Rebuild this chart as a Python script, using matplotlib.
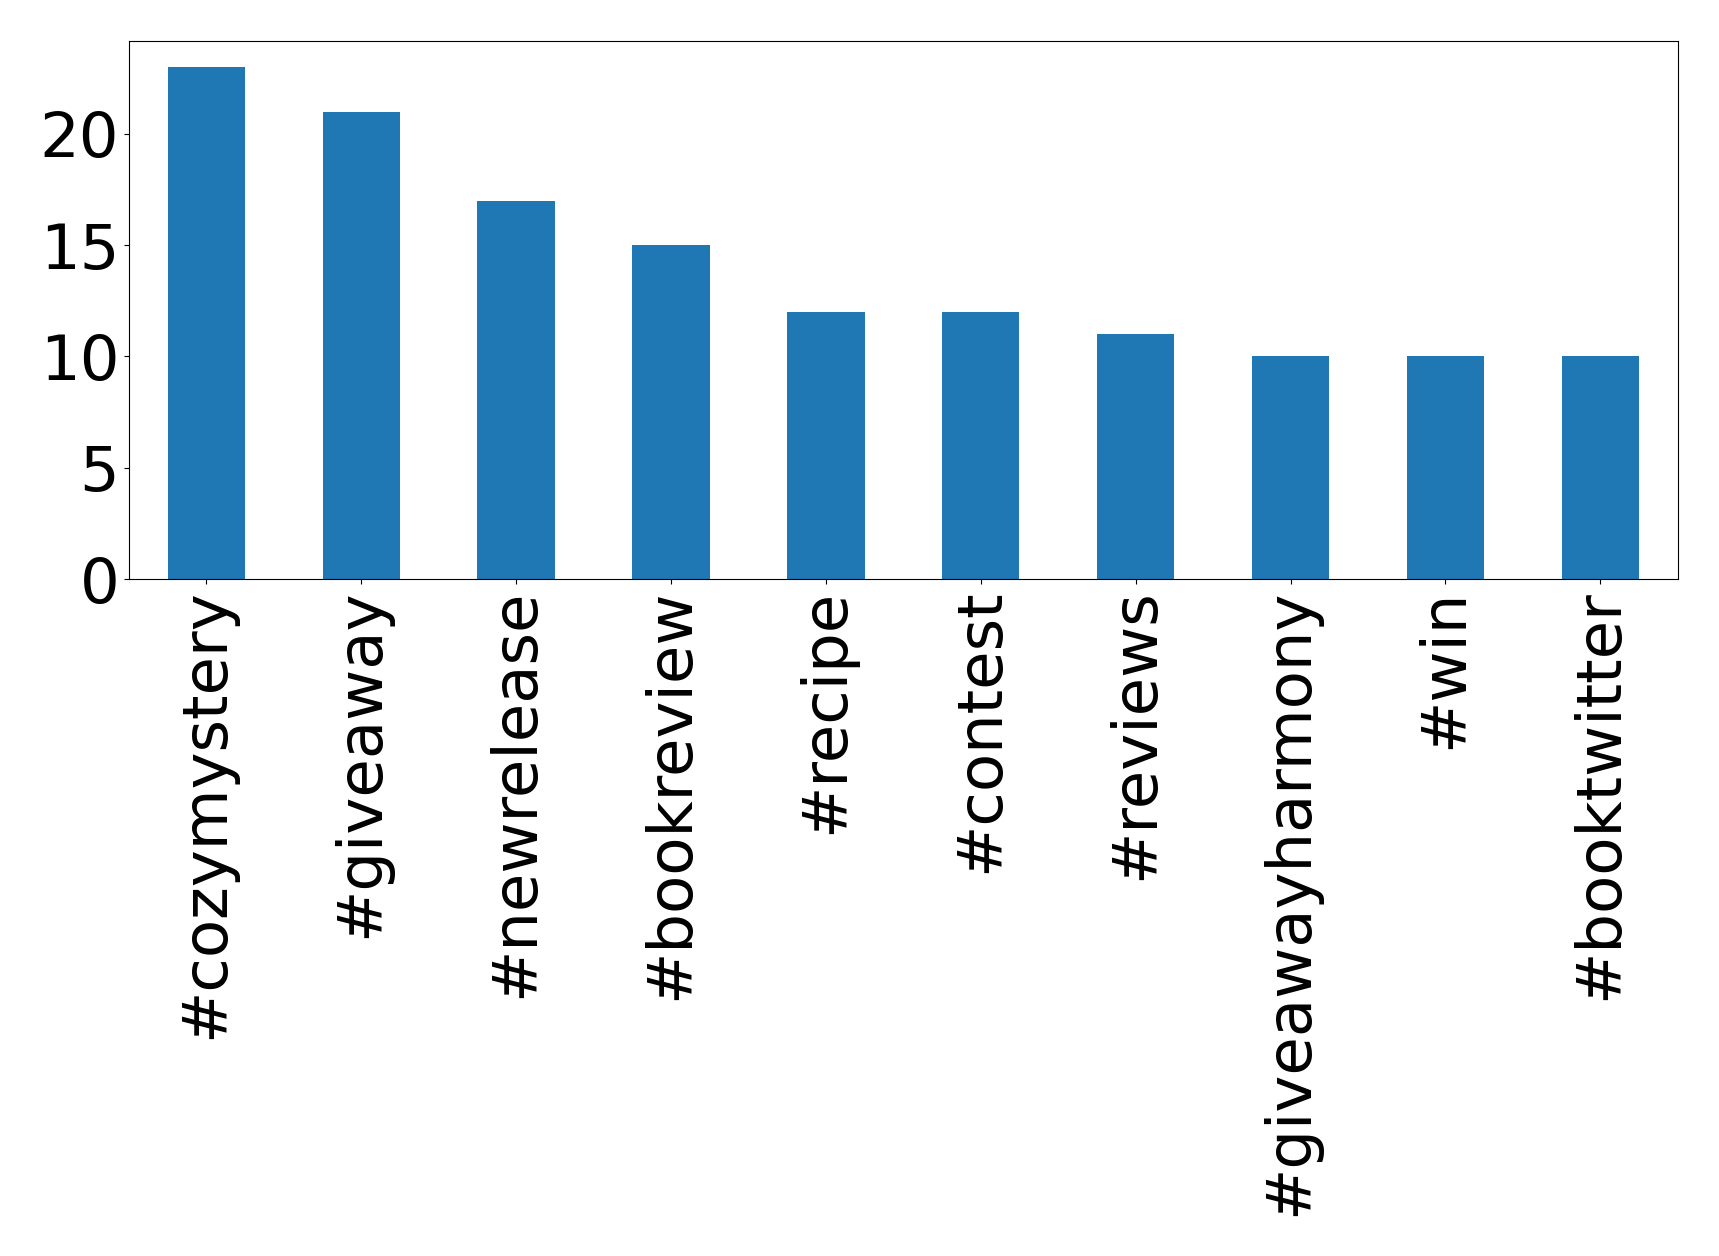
import matplotlib
matplotlib.use("Agg")
import matplotlib.pyplot as plt

tags = ["#cozymystery", "#giveaway", "#newrelease", "#bookreview", "#recipe",
        "#contest", "#reviews", "#giveawayharmony", "#win", "#booktwitter"]
counts = [23, 21, 17, 15, 12, 12, 11, 10, 10, 10]

fig = plt.figure(figsize=(17.19, 12.56), dpi=100)
ax = fig.add_axes([0.075, 0.539, 0.901, 0.428])
x = list(range(len(tags)))
ax.bar(x, counts, width=0.5, color="#1f77b4")
ax.set_xlim(-0.5, len(tags) - 0.5)
ax.set_ylim(0, 24.15)
ax.set_xticks(x)
ax.set_xticklabels(tags, rotation=90, fontsize=45)
ax.set_yticks([0, 5, 10, 15, 20])
ax.tick_params(axis="y", labelsize=45)
fig.savefig("out.png", dpi=100)
